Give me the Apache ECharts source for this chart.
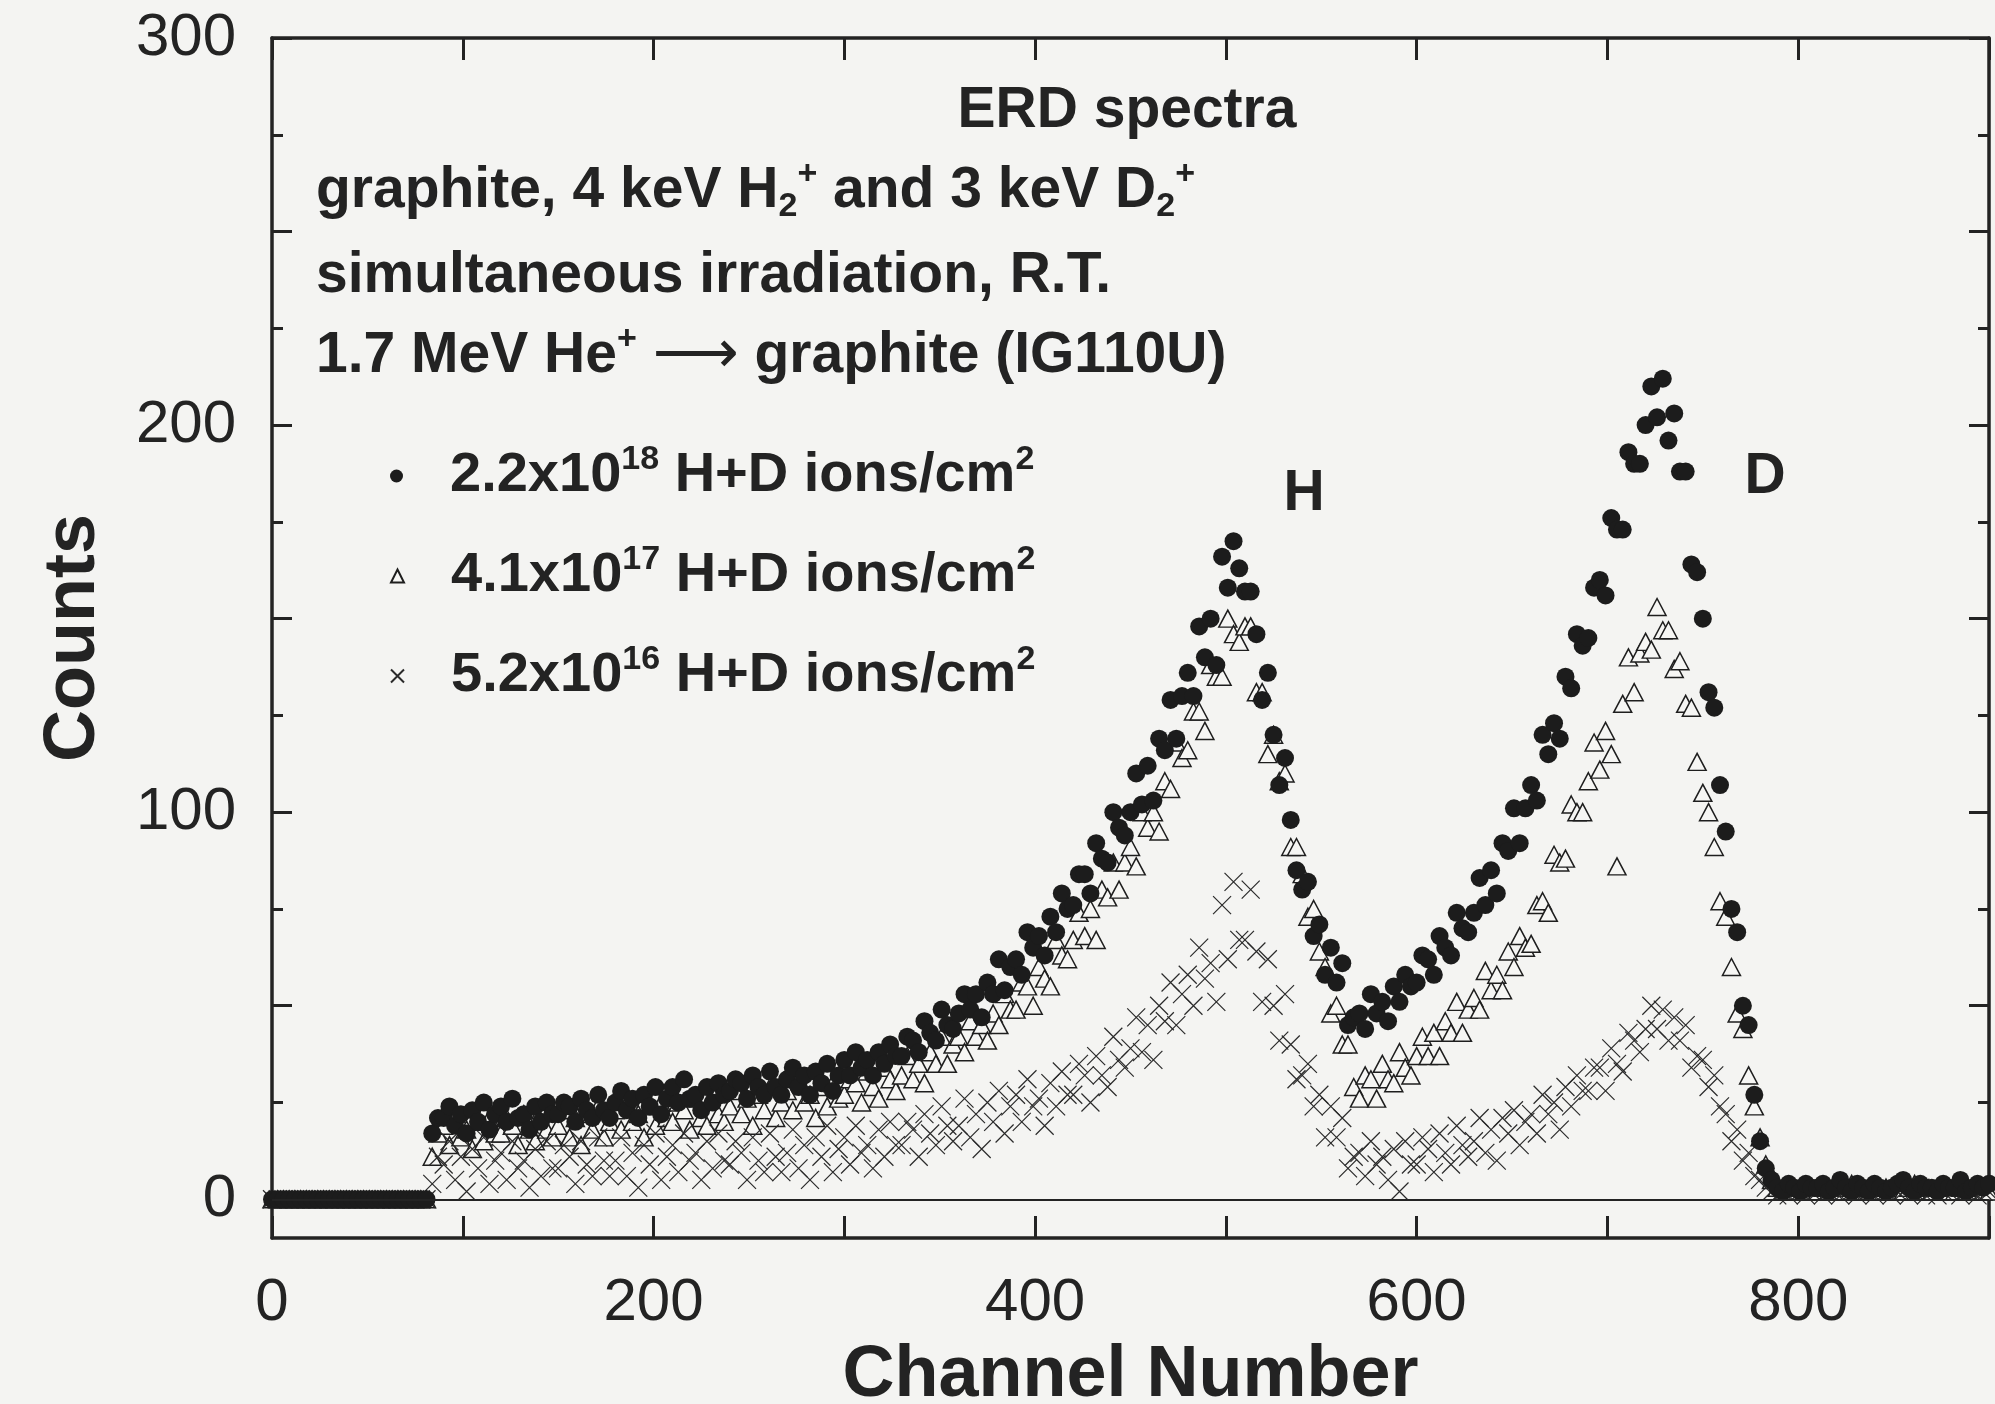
<!DOCTYPE html>
<html>
<head>
<meta charset="utf-8">
<script src="https://cdn.jsdelivr.net/npm/echarts@6/dist/echarts.min.js"></script>
<style>
html,body{margin:0;padding:0;background:#f4f4f2;}
#chart{width:1995px;height:1404px;}
</style>
</head>
<body>
<div id="chart"></div>
<script>
// ---- data (channel grid every 3 channels, 0..900) ----
const channels = [
0,3,6,9,12,15,18,21,24,27, 30,33,36,39,42,45,48,51,54,57,
60,63,66,69,72,75,78,81,84,87, 90,93,96,99,102,105,108,111,114,117,
120,123,126,129,132,135,138,141,144,147, 150,153,156,159,162,165,168,171,174,177,
180,183,186,189,192,195,198,201,204,207, 210,213,216,219,222,225,228,231,234,237,
240,243,246,249,252,255,258,261,264,267, 270,273,276,279,282,285,288,291,294,297,
300,303,306,309,312,315,318,321,324,327, 330,333,336,339,342,345,348,351,354,357,
360,363,366,369,372,375,378,381,384,387, 390,393,396,399,402,405,408,411,414,417,
420,423,426,429,432,435,438,441,444,447, 450,453,456,459,462,465,468,471,474,477,
480,483,486,489,492,495,498,501,504,507, 510,513,516,519,522,525,528,531,534,537,
540,543,546,549,552,555,558,561,564,567, 570,573,576,579,582,585,588,591,594,597,
600,603,606,609,612,615,618,621,624,627, 630,633,636,639,642,645,648,651,654,657,
660,663,666,669,672,675,678,681,684,687, 690,693,696,699,702,705,708,711,714,717,
720,723,726,729,732,735,738,741,744,747, 750,753,756,759,762,765,768,771,774,777,
780,783,786,789,792,795,798,801,804,807, 810,813,816,819,822,825,828,831,834,837,
840,843,846,849,852,855,858,861,864,867, 870,873,876,879,882,885,888,891,894,897,
900];

// 2.2x10^18 H+D ions/cm^2 (filled circles)
const countsHigh = [
0,0,0,0,0,0,0,0,0,0, 0,0,0,0,0,0,0,0,0,0,
0,0,0,0,0,0,0,0,17,21, 21,24,19,22,17,23,20,25,18,22,
24,20,26,21,22,18,24,20,25,22, 22,25,24,20,26,23,21,27,23,21,
25,28,23,26,21,27,24,29,22,26, 29,25,31,26,27,23,29,25,30,27,
28,31,30,26,32,29,27,33,29,27, 31,34,29,32,27,33,30,35,28,32,
36,32,38,34,36,32,38,35,40,37, 37,42,41,38,46,43,41,49,45,44,
48,53,49,53,47,56,53,62,54,60, 62,58,69,65,68,63,73,69,79,75,
76,84,84,79,92,88,87,100,96,94, 100,110,102,112,103,119,116,129,119,130,
136,130,148,140,150,138,166,158,170,163, 157,157,146,129,136,120,107,114,98,85,
80,82,68,71,58,65,56,61,45,47, 48,44,53,48,51,46,55,51,58,55,
56,63,62,58,68,65,63,74,70,69, 74,83,76,85,79,92,90,101,92,101,
107,103,120,115,123,119,135,132,146,143, 145,158,160,156,176,173,173,193,190,190,
200,210,202,212,196,203,188,188,164,162, 150,131,127,107,95,75,69,50,45,27,
15,8,5,3,2,4,3,2,4,3, 3,4,2,3,5,3,2,4,3,2,
4,3,2,3,4,5,3,2,4,3, 3,2,4,3,3,5,2,3,4,3,
4];

// 4.1x10^17 H+D ions/cm^2 (open triangles)
const countsMid = [
0,0,0,0,0,0,0,0,0,0, 0,0,0,0,0,0,0,0,0,0,
0,0,0,0,0,0,0,0,11,17, 19,14,22,16,18,13,20,15,21,17,
17,21,19,14,22,18,15,23,18,16, 19,23,16,21,14,22,18,24,16,20,
23,18,26,20,22,16,24,19,25,21, 20,25,23,18,26,21,19,27,22,20,
24,28,22,26,19,27,23,29,21,25, 28,23,31,25,27,21,29,24,30,26,
27,31,30,25,33,29,26,34,31,28, 32,37,31,35,30,38,35,42,35,40,
42,38,46,42,45,41,48,45,53,49, 49,56,55,50,60,57,55,67,63,62,
67,74,68,75,67,80,78,87,80,87, 91,86,100,96,100,95,108,106,118,114,
116,126,126,121,138,135,135,150,146,144, 148,148,131,131,115,120,108,110,91,91,
84,73,75,64,60,48,50,40,40,29, 26,32,31,26,35,31,30,38,34,32,
37,42,37,43,37,46,43,51,43,49, 52,49,59,54,58,54,64,60,68,65,
66,76,77,74,89,87,88,102,100,100, 108,118,111,121,115,86,128,140,131,141,
144,142,153,147,147,137,139,128,127,113, 105,100,91,77,73,60,48,44,32,24,
16,9,5,3,2,3,2,3,2,3, 2,3,2,3,2,3,4,2,3,2,
3,2,3,2,3,2,3,4,2,3, 2,3,2,3,2,3,2,2,3,2,
2];

// 5.2x10^16 H+D ions/cm^2 (crosses)
const countsLow = [
0,0,0,0,0,0,0,0,0,0, 0,0,0,0,0,0,0,0,0,0,
0,0,0,0,0,0,0,0,4,11, 9,15,5,11,2,13,8,16,4,10,
12,5,15,8,10,3,13,6,15,8, 8,14,11,4,15,9,6,16,10,6,
10,16,6,12,3,14,9,17,5,11, 14,7,17,10,12,5,15,8,17,10,
9,15,12,5,16,10,7,17,11,7, 12,18,8,14,5,16,11,19,7,13,
16,9,19,12,14,8,18,11,20,14, 14,20,18,11,22,17,14,24,19,15,
19,26,16,22,13,25,20,28,17,24, 27,20,31,24,26,19,30,24,33,27,
27,35,32,25,37,32,29,42,36,34, 39,47,38,45,36,50,46,56,45,53,
58,50,65,57,61,51,76,62,82,67, 67,80,64,51,62,50,41,53,40,31,
32,35,24,27,16,24,16,21,8,11, 12,6,15,9,11,5,13,2,15,9,
9,16,13,7,17,12,9,19,14,11, 15,21,12,18,10,21,17,23,14,20,
22,17,27,22,25,18,29,24,32,28, 28,34,34,28,39,35,33,43,41,38,
44,50,44,49,41,47,41,45,34,37, 36,29,32,24,22,15,18,10,12,6,
5,3,2,1,2,1,2,2,1,2, 2,1,2,2,1,3,2,1,2,2,
1,2,2,1,2,2,1,2,3,1, 2,1,2,2,3,1,2,2,1,2,
2];

const seriesNames = ['2.2x10^18 H+D ions/cm^2','4.1x10^17 H+D ions/cm^2','5.2x10^16 H+D ions/cm^2'];
const legendTexts = ['2.2x10{sup|18} H+D ions/cm{sup|2}','4.1x10{sup|17} H+D ions/cm{sup|2}','5.2x10{sup|16} H+D ions/cm{sup|2}'];
const xTickValues = [0,100,200,300,400,500,600,700,800,900];
const xLabelValues = [0,200,400,600,800];
const yLabelValues = [0,100,200,300];
const yMajorTicks = [0,50,100,150,200,250,300];
const yMinorTicks = [25,75,125,175,225,275];
const noteLines = [
  'ERD spectra',
  'graphite, 4 keV H{sub|2}{sup|+} and 3 keV D{sub|2}{sup|+}',
  'simultaneous irradiation, R.T.',
  '1.7 MeV He{sup|+} {arr|⟶} graphite (IG110U)'
];
const peakLabels = ['H','D'];

// ---- style ----
const INK = '#232323';
const FONT = "'Liberation Sans', Arial, Helvetica, sans-serif";
const CROSS = 'path://M0,0L10,10M10,0L0,10';

const chart = echarts.init(document.getElementById('chart'), null, {renderer:'canvas'});

const axisLineStyle = {color: INK, width: 3.5};
const tickStyle = {color: INK, width: 3};

const xBase = {
  type:'value', min:0, max:900, interval:100,
  splitLine:{show:false},
  axisLine:{show:true, onZero:false, lineStyle:axisLineStyle},
  axisTick:{show:true, inside:true, length:22, lineStyle:tickStyle, customValues:xTickValues},
  axisLabel:{show:false}
};
const yBase = {
  type:'value', min:-10, max:300,
  splitLine:{show:false},
  axisLine:{show:true, onZero:false, lineStyle:axisLineStyle},
  axisTick:{show:true, inside:true, length:20, lineStyle:tickStyle, customValues:yMajorTicks},
  axisLabel:{show:false}
};
const yMinor = {
  ...yBase,
  axisLine:{show:false, onZero:false},
  axisTick:{show:true, inside:true, length:11, lineStyle:tickStyle, customValues:yMinorTicks}
};

const richBase = {
  sup:{fontSize:34, fontWeight:'bold', fontFamily:FONT, fill:INK, verticalAlign:'top', lineHeight:40},
  sub:{fontSize:34, fontWeight:'bold', fontFamily:FONT, fill:INK, verticalAlign:'bottom', lineHeight:40},
  arr:{fontSize:60, fontWeight:'normal', fontFamily:"'DejaVu Sans', sans-serif", fill:INK, lineHeight:66}
};
function noteText(x, y, text, align) {
  return {
    type:'text', x:x, y:y, silent:true,
    style:{text:text, rich:richBase, fill:INK, fontSize:57, fontWeight:'bold', fontFamily:FONT,
           lineHeight:66, align:align || 'left', verticalAlign:'middle'}
  };
}

const legendCenters = [476, 576, 676];
const legendIcons = ['circle','triangle',CROSS];

const option = {
  backgroundColor:'#f4f4f2',
  animation:false,
  textStyle:{fontFamily:FONT, color:INK},
  grid:{left:272, top:38, width:1717, height:1200, containLabel:false, outerBoundsMode:'none'},
  xAxis:[
    {...xBase, position:'bottom',
      axisLabel:{show:true, customValues:xLabelValues, fontSize:60, color:INK, margin:35, fontFamily:FONT},
      name:'Channel Number', nameLocation:'middle', nameGap:102,
      nameTextStyle:{fontSize:72, fontWeight:'bold', color:INK, fontFamily:FONT}},
    {...xBase, position:'top'}
  ],
  yAxis:[
    {...yBase, position:'left',
      axisLabel:{show:true, customValues:yLabelValues, fontSize:60, color:INK, margin:36, fontFamily:FONT},
      name:'Counts', nameLocation:'middle', nameGap:162,
      nameTextStyle:{fontSize:72, fontWeight:'bold', color:INK, fontFamily:FONT}},
    {...yMinor, position:'left'},
    {...yBase, position:'right'},
    {...yMinor, position:'right'}
  ],
  legend: seriesNames.map((n, i) => ({
    data:[{name:n, icon:legendIcons[i]}],
    left:390, top:legendCenters[i] - 33, padding:0,
    orient:'vertical', itemWidth:13, itemHeight:13, selectedMode:false,
    formatter: () => legendTexts[i],
    textStyle:{fontSize:56, fontWeight:'bold', color:INK, fontFamily:FONT, lineHeight:66,
      padding:[0,0,0,42],
      rich:{sup:{fontSize:34, fontWeight:'bold', color:INK, fontFamily:FONT, verticalAlign:'top', lineHeight:40}}}
  })),
  graphic: [
    noteText(1127, 111, noteLines[0], 'center'),
    noteText(316, 191, noteLines[1]),
    noteText(316, 276, noteLines[2]),
    noteText(316, 356, noteLines[3]),
    noteText(1304, 494, peakLabels[0], 'center'),
    noteText(1765, 477, peakLabels[1], 'center')
  ],
  series:[
    {type:'scatter', name:seriesNames[1], z:2,
      data: channels.map((c, i) => [c, countsMid[i]]),
      symbol:'triangle', symbolSize:[18,17],
      itemStyle:{color:'#f6f6f4', borderColor:'#1e1e1e', borderWidth:1.5, opacity:1},
      emphasis:{disabled:true},
      markLine:{silent:true, symbol:['none','none'], label:{show:false},
        lineStyle:{color:INK, width:2, type:'solid'}, data:[{yAxis:0}]}},
    {type:'scatter', name:seriesNames[2], z:3,
      data: channels.map((c, i) => [c, countsLow[i]]),
      symbol:CROSS, symbolSize:18,
      itemStyle:{color:'rgba(0,0,0,0)', borderColor:'#2a2a2a', borderWidth:1.2, opacity:1},
      emphasis:{disabled:true}},
    {type:'scatter', name:seriesNames[0], z:4,
      data: channels.map((c, i) => [c, countsHigh[i]]),
      symbol:'circle', symbolSize:18,
      itemStyle:{color:'#1c1c1c', opacity:1},
      emphasis:{disabled:true}}
  ]
};
chart.setOption(option);
</script>
</body>
</html>
